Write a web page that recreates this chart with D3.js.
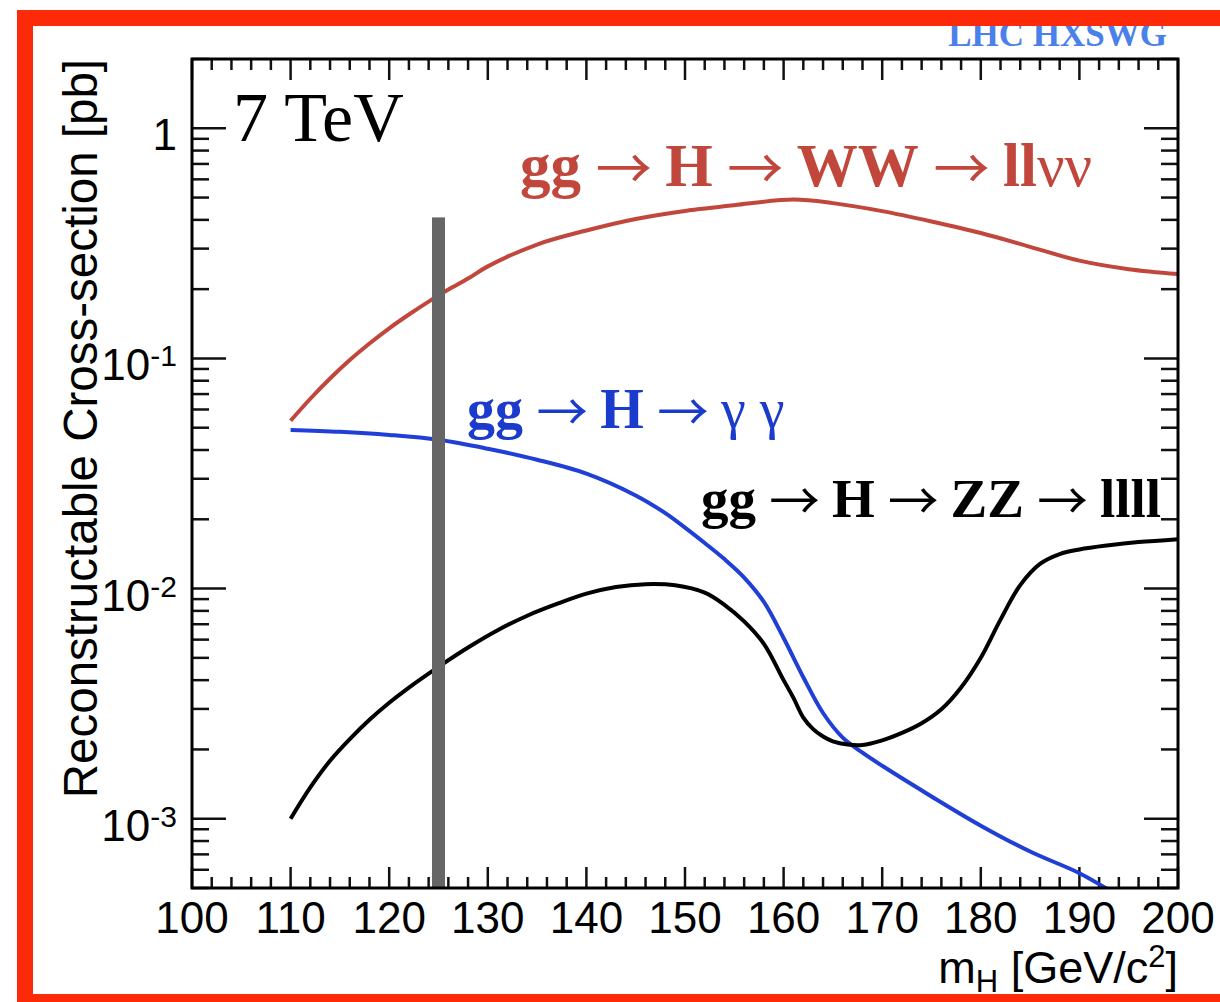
<!DOCTYPE html>
<meta charset="utf-8">
<style>
body { margin: 0; background: #fff; }
svg { display: block; }
.tick-label { font-family: "Liberation Sans", Arial, Helvetica, sans-serif; font-size: 44px; fill: #000; }
.proc { font-family: "Liberation Serif", "Times New Roman", serif; }
</style>
<body>
<script src="https://cdnjs.cloudflare.com/ajax/libs/d3/7.8.5/d3.min.js"></script>
<script>
'use strict';

// m_H [GeV/c^2] and reconstructable cross-section [pb]
const massWW = [110, 112, 114, 116, 118, 120, 122, 124, 126, 128, 130, 135, 140, 145, 150, 155, 161, 165, 170, 175, 180, 185, 190, 195, 200];
const xsecWW = [0.0536, 0.0668, 0.0818, 0.0984, 0.1161, 0.1352, 0.1552, 0.1766, 0.1991, 0.2223, 0.2512, 0.3126, 0.3597, 0.4036, 0.4375, 0.4634, 0.4898, 0.473, 0.4365, 0.3936, 0.3508, 0.3055, 0.266, 0.2443, 0.2328];

const massGG = [110, 115, 120, 125, 130, 135, 140, 145, 148, 150, 152, 154, 156, 158, 160, 162, 164, 166, 168, 170, 175, 180, 185, 190, 193];
const xsecGG = [0.0489, 0.048, 0.0465, 0.0443, 0.0405, 0.0363, 0.0316, 0.0254, 0.02128, 0.01841, 0.01578, 0.01343, 0.01117, 0.00875, 0.0061, 0.00412, 0.00288, 0.00225, 0.001936, 0.001698, 0.00125, 0.000933, 0.00072, 0.00058, 0.00049];

const massZZ = [110, 112, 114, 116, 118, 120, 122, 125, 128, 131, 134, 137, 140, 143, 146, 149, 152, 154, 156, 158, 160, 161, 162, 163, 164, 165, 166.5, 168, 170, 172, 174, 176, 178, 180, 182, 184, 186, 188, 190, 193, 196, 200];
const xsecZZ = [0.001, 0.001368, 0.001786, 0.002218, 0.002692, 0.003192, 0.003715, 0.004571, 0.005546, 0.006592, 0.007621, 0.00857, 0.0095, 0.01016, 0.01045, 0.01033, 0.0096, 0.0085, 0.0072, 0.00575, 0.004, 0.00335, 0.00275, 0.00245, 0.002275, 0.002168, 0.0021, 0.00209, 0.00219, 0.00236, 0.0026, 0.00299, 0.00372, 0.00501, 0.00733, 0.01035, 0.0128, 0.01413, 0.01479, 0.01542, 0.01592, 0.0164];

const higgsMass = 125, bandTop = 0.41;

const xMajor = d3.range(100, 201, 10);
const xMinor = d3.range(100, 201, 2).filter(v => v % 10 !== 0);
const yMajor = [1e-3, 1e-2, 1e-1, 1];
const yTickBase = ["10", "10", "10", "1"];
const yTickExp = ["-3", "-2", "-1", ""];

const W = 1220, H = 1002;
const frame = {left: 192, right: 1178, top: 59, bottom: 888};

const x = d3.scaleLinear().domain([100, 200]).range([frame.left, frame.right]);
const y = d3.scaleLog().domain([5e-4, 2]).range([frame.bottom, frame.top]);
const yMinor = y.ticks().filter(v => !yMajor.some(m => Math.abs(m - v) / m < 1e-6));

const svg = d3.select("body").append("svg")
    .attr("width", W)
    .attr("height", H);

svg.append("rect").attr("width", W).attr("height", H).attr("fill", "#fff");

svg.append("clipPath").attr("id", "plot-clip")
  .append("rect")
    .attr("x", frame.left).attr("y", frame.top)
    .attr("width", frame.right - frame.left).attr("height", frame.bottom - frame.top);

// ticks, ROOT style on all four sides
const ticks = svg.append("g").attr("stroke", "#111").attr("stroke-width", 2.5);
function xTicks(vals, len) {
  ticks.selectAll(null).data(vals).enter().append("line")
      .attr("x1", d => x(d)).attr("x2", d => x(d))
      .attr("y1", frame.bottom).attr("y2", frame.bottom - len);
  ticks.selectAll(null).data(vals).enter().append("line")
      .attr("x1", d => x(d)).attr("x2", d => x(d))
      .attr("y1", frame.top).attr("y2", frame.top + len);
}
function yTicks(vals, len) {
  ticks.selectAll(null).data(vals).enter().append("line")
      .attr("y1", d => y(d)).attr("y2", d => y(d))
      .attr("x1", frame.left).attr("x2", frame.left + len);
  ticks.selectAll(null).data(vals).enter().append("line")
      .attr("y1", d => y(d)).attr("y2", d => y(d))
      .attr("x1", frame.right).attr("x2", frame.right - len);
}
xTicks(xMajor, 21);
xTicks(xMinor, 11);
yTicks(yMajor, 34);
yTicks(yMinor, 17);

// curves
const line = (mass, xsec) => d3.line()
    .x((d, i) => x(mass[i]))
    .y(d => y(d))
    .curve(d3.curveCatmullRom.alpha(0.5))(xsec);

const curves = svg.append("g").attr("clip-path", "url(#plot-clip)").attr("fill", "none").attr("stroke-width", 4);
curves.append("path").attr("d", line(massWW, xsecWW)).attr("stroke", "#c1463c");
curves.append("path").attr("d", line(massGG, xsecGG)).attr("stroke", "#1f3fd6");
curves.append("path").attr("d", line(massZZ, xsecZZ)).attr("stroke", "#000");

// m_H = 125 band
svg.append("rect")
    .attr("x", x(higgsMass) - 6.5)
    .attr("y", y(bandTop))
    .attr("width", 13)
    .attr("height", y.range()[0] - y(bandTop))
    .attr("fill", "#666");

// frame
svg.append("rect")
    .attr("x", frame.left).attr("y", frame.top)
    .attr("width", frame.right - frame.left).attr("height", frame.bottom - frame.top)
    .attr("fill", "none").attr("stroke", "#000").attr("stroke-width", 3);

// tick labels
svg.selectAll(".xl").data(xMajor).enter().append("text")
    .attr("class", "tick-label")
    .attr("x", d => x(d)).attr("y", 933)
    .attr("text-anchor", "middle")
    .text(d => d);

const yl = svg.selectAll(".yl").data(yMajor).enter().append("text")
    .attr("class", "tick-label")
    .attr("x", 177).attr("y", d => y(d) + 22)
    .attr("text-anchor", "end");
yl.append("tspan").text((d, i) => yTickBase[i]);
yl.append("tspan").attr("font-size", 30).attr("dy", -14).text((d, i) => yTickExp[i]);

// axis titles
svg.append("text")
    .attr("class", "tick-label")
    .style("font-size", "47.5px")
    .attr("transform", "translate(97," + frame.top + ") rotate(-90)")
    .attr("text-anchor", "end")
    .text("Reconstructable Cross-section [pb]");

const xt = svg.append("text")
    .attr("class", "tick-label")
    .style("font-size", "45px")
    .attr("x", frame.right).attr("y", 983)
    .attr("text-anchor", "end");
xt.append("tspan").text("m");
xt.append("tspan").attr("font-size", 31).attr("dy", 9).text("H");
xt.append("tspan").attr("dy", -9).text(" [GeV/c");
xt.append("tspan").attr("font-size", 31).attr("dy", -16).text("2");
xt.append("tspan").attr("dy", 16).text("]");

// process labels: bold particles, thin arrows and greek letters
function procLabel(parts, px, py, size, color) {
  const t = svg.append("text").attr("class", "proc")
      .attr("x", px).attr("y", py)
      .attr("font-size", size).attr("fill", color);
  let after = 0;
  parts.forEach(p => {
    if (p === "->") {
      t.append("tspan")
          .attr("dx", size * 0.24)
          .attr("dy", 3)
          .attr("font-family", "'Noto Sans CJK JP'")
          .attr("font-size", size * 0.92)
          .attr("font-weight", "normal")
          .text("\u2192");
      after = size * 0.22;
    } else {
      t.append("tspan")
          .attr("dx", after)
          .attr("dy", after ? -3 : 0)
          .attr("font-weight", p[1] ? "bold" : "normal")
          .text(p[0]);
      after = 0;
    }
  });
}
procLabel([["gg", 1], "->", ["H", 1], "->", ["WW", 1], "->", ["ll", 1], ["\u03bd\u03bd", 0]], 520, 186, 61, "#c1463c");
procLabel([["gg", 1], "->", ["H", 1], "->", ["\u03b3\u00a0\u03b3", 0]], 467, 428, 56, "#1a3bcc");
procLabel([["gg", 1], "->", ["H", 1], "->", ["ZZ", 1], "->", ["llll", 1]], 701, 517, 55, "#000");

svg.append("text").attr("class", "proc")
    .attr("x", 233).attr("y", 141)
    .attr("font-size", 70)
    .text("7 TeV");

svg.append("text").attr("class", "proc")
    .attr("x", 1167).attr("y", 46)
    .attr("text-anchor", "end")
    .attr("font-size", 35).attr("font-weight", "bold")
    .attr("fill", "#4a80ea")
    .text("LHC HXSWG");

// red outer border
svg.append("rect")
    .attr("x", 25).attr("y", 18)
    .attr("width", 1400).attr("height", 984)
    .attr("fill", "none").attr("stroke", "#fc2a08").attr("stroke-width", 16);
</script>
